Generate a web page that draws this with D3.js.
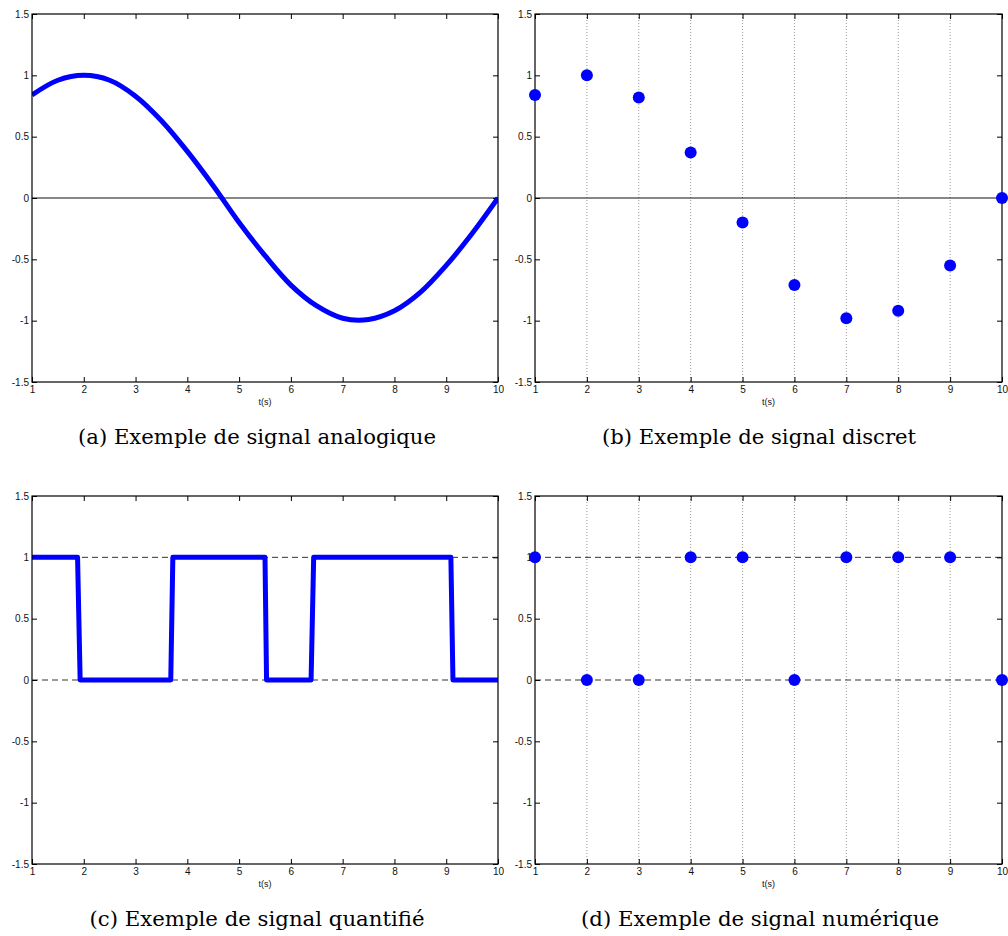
<!DOCTYPE html>
<html>
<head>
<meta charset="utf-8">
<script src="https://cdn.jsdelivr.net/npm/d3@7"></script>
<style>
  html, body { margin: 0; padding: 0; background: #fff; }
  svg { display: block; }
  .tick text { font-family: "Liberation Sans", Arial, Helvetica, sans-serif; font-size: 10px; fill: #111; }
</style>
</head>
<body>
<svg id="chart" width="1008" height="936"></svg>
<script>
// ---------- data ----------
const xTicks = [1, 2, 3, 4, 5, 6, 7, 8, 9, 10];
const yTicks = [-1.5, -1, -0.5, 0, 0.5, 1, 1.5];
const yTickLabels = ["-1.5", "-1", "-0.5", "0", "0.5", "1", "1.5"];

// (a) analog signal, read every 0.5 s
const analogT = [1, 1.5, 2, 2.5, 3, 3.5, 4, 4.5, 5, 5.5, 6, 6.5, 7, 7.5, 8, 8.5, 9, 9.5, 10];
const analogV = [0.84, 0.96, 1.0, 0.96, 0.83, 0.63, 0.38, 0.1, -0.2, -0.47, -0.71, -0.88, -0.98, -0.99, -0.92, -0.77, -0.55, -0.29, 0.0];

// (b) discrete samples
const discreteT = [1, 2, 3, 4, 5, 6, 7, 8, 9, 10];
const discreteV = [0.84, 1.0, 0.82, 0.37, -0.2, -0.71, -0.98, -0.92, -0.55, 0.0];

// (c) quantified signal (corner points)
const quantT = [1, 1.88, 1.93, 3.68, 3.72, 5.5, 5.53, 6.39, 6.44, 9.09, 9.13, 10];
const quantV = [1, 1, 0, 0, 1, 1, 0, 0, 1, 1, 0, 0];

// (d) digital samples
const digitalT = [1, 2, 3, 4, 5, 6, 7, 8, 9, 10];
const digitalV = [1, 0, 0, 1, 1, 0, 1, 1, 1, 0];

const captions = [
  "(a) Exemple de signal analogique",
  "(b) Exemple de signal discret",
  "(c) Exemple de signal quantifié",
  "(d) Exemple de signal numérique"
];
const xLabel = "t(s)";

// ---------- layout ----------
const svg = d3.select("#chart");
const panels = [
  { left: 32,  top: 14,  w: 466, h: 368, type: "line",   t: analogT,   v: analogV,   cap: captions[0], capX: 257, capW: 358, grid: false, zero: true,  dash: false },
  { left: 535, top: 14,  w: 467, h: 368, type: "points", t: discreteT, v: discreteV, cap: captions[1], capX: 759, capW: 314, grid: true,  zero: true,  dash: false },
  { left: 32,  top: 496, w: 466, h: 368, type: "line",   t: quantT,    v: quantV,    cap: captions[2], capX: 257, capW: 335, grid: false, zero: false, dash: true, linear: true },
  { left: 535, top: 496, w: 467, h: 368, type: "points", t: digitalT,  v: digitalV,  cap: captions[3], capX: 760, capW: 358, grid: true,  zero: false, dash: true }
];

panels.forEach((p, i) => {
  const x = d3.scaleLinear().domain([1, 10]).range([0, p.w]);
  const y = d3.scaleLinear().domain([-1.5, 1.5]).range([p.h, 0]);
  const g = svg.append("g").attr("transform", `translate(${p.left},${p.top})`);

  const clipId = "clip" + i;
  g.append("clipPath").attr("id", clipId)
    .append("rect").attr("x", 0).attr("y", 0).attr("width", p.w).attr("height", p.h);

  // vertical dotted grid
  if (p.grid) {
    g.selectAll("line.vgrid").data(xTicks.slice(1, -1)).enter().append("line")
      .attr("class", "vgrid")
      .attr("x1", d => x(d)).attr("x2", d => x(d))
      .attr("y1", 0).attr("y2", p.h)
      .attr("stroke", "#9a9a9a").attr("stroke-width", 1)
      .attr("stroke-dasharray", "1,2");
  }
  // zero line
  if (p.zero) {
    g.append("line").attr("x1", 0).attr("x2", p.w).attr("y1", y(0)).attr("y2", y(0))
      .attr("stroke", "#111").attr("stroke-width", 1);
  }
  // dashed quantization levels
  if (p.dash) {
    g.selectAll("line.lvl").data([0, 1]).enter().append("line")
      .attr("class", "lvl")
      .attr("x1", 0).attr("x2", p.w).attr("y1", d => y(d)).attr("y2", d => y(d))
      .attr("stroke", "#333").attr("stroke-width", 1)
      .attr("stroke-dasharray", "6,4");
  }

  // axes (ticks inward)
  const ax = g.append("g").attr("class", "axes");
  ax.append("g").attr("transform", `translate(0,${p.h})`)
    .call(d3.axisBottom(x).tickValues(xTicks).tickFormat(d3.format("d")).tickSizeInner(-5).tickSizeOuter(0).tickPadding(4));
  ax.append("g")
    .call(d3.axisTop(x).tickValues(xTicks).tickFormat("").tickSizeInner(-5).tickSizeOuter(0));
  ax.append("g")
    .call(d3.axisLeft(y).tickValues(yTicks).tickFormat((d, k) => yTickLabels[k]).tickSizeInner(-5).tickSizeOuter(0).tickPadding(3));
  ax.append("g").attr("transform", `translate(${p.w},0)`)
    .call(d3.axisRight(y).tickValues(yTicks).tickFormat("").tickSizeInner(-5).tickSizeOuter(0));
  ax.selectAll(".domain").remove();
  ax.selectAll(".tick line").attr("stroke", "#000");

  // data
  const data = p.t.map((t, k) => ({ t, v: p.v[k] }));
  if (p.type === "line") {
    const line = d3.line().x(d => x(d.t)).y(d => y(d.v))
      .curve(p.linear ? d3.curveLinear : d3.curveCatmullRom.alpha(0.5));
    g.append("path").datum(data)
      .attr("clip-path", `url(#${clipId})`)
      .attr("d", line)
      .attr("fill", "none").attr("stroke", "#0000ff")
      .attr("stroke-width", 5).attr("stroke-linejoin", "round");
  }

  // frame
  g.append("rect").attr("x", 0).attr("y", 0).attr("width", p.w).attr("height", p.h)
    .attr("fill", "none").attr("stroke", "#000").attr("stroke-width", 1.2);

  if (p.type === "points") {
    g.selectAll("circle.pt").data(data).enter().append("circle")
      .attr("class", "pt")
      .attr("cx", d => x(d.t)).attr("cy", d => y(d.v)).attr("r", 6)
      .attr("fill", "#0000ff");
  }

  // x label
  g.append("text").attr("x", p.w / 2).attr("y", p.h + 23)
    .attr("text-anchor", "middle")
    .attr("font-family", "Liberation Sans, Arial, sans-serif").attr("font-size", 9)
    .attr("fill", "#111")
    .text(xLabel);

  // caption
  svg.append("text")
    .attr("x", p.capX - p.capW / 2).attr("y", p.top + p.h + 62)
    .attr("font-family", "DejaVu Serif, serif").attr("font-size", 20)
    .attr("fill", "#000")
    .attr("textLength", p.capW).attr("lengthAdjust", "spacingAndGlyphs")
    .text(p.cap);
});
</script>
</body>
</html>
